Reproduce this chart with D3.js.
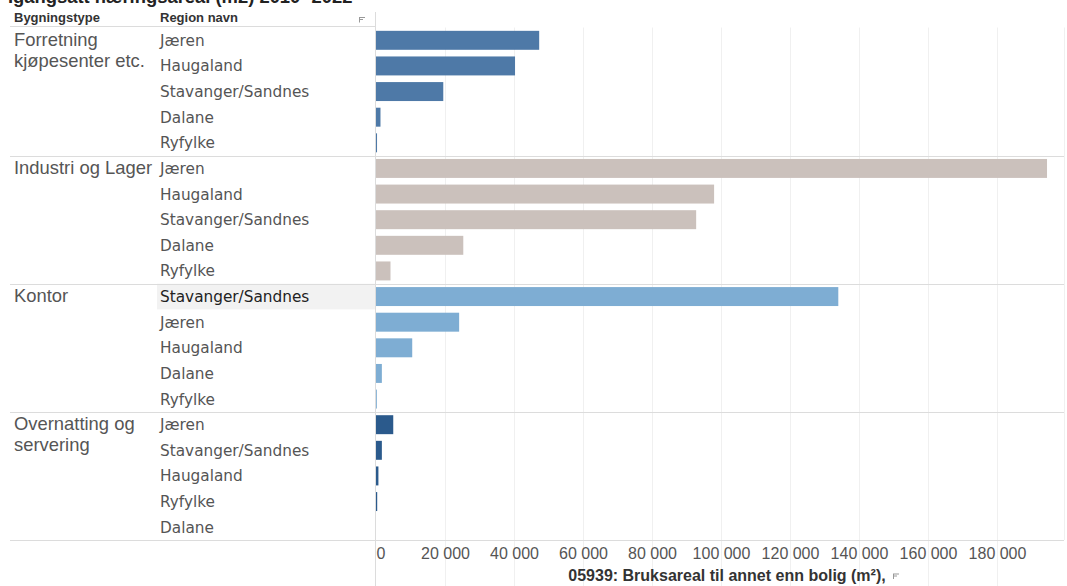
<!DOCTYPE html>
<html><head><meta charset="utf-8">
<script src="https://cdn.jsdelivr.net/npm/d3@7"></script>
<style>body{margin:0;background:#fff;}svg{display:block;}</style>
</head><body><svg id="c" width="1067" height="586"></svg>
<script>
const title = "Igangsatt næringsareal (m2) 2010 -2022";
const groups = ["Forretning\nkjøpesenter etc.", "Industri og Lager", "Kontor", "Overnatting og\nservering"];
const groupColors = ["#4e79a7", "#cbc1bc", "#7eadd3", "#2b5a8c"];
const regionsForretning = ["Jæren", "Haugaland", "Stavanger/Sandnes", "Dalane", "Ryfylke"];
const valuesForretning = [47300, 40300, 19500, 1300, 300];
const regionsIndustri = ["Jæren", "Haugaland", "Stavanger/Sandnes", "Dalane", "Ryfylke"];
const valuesIndustri = [194500, 98000, 92800, 25300, 4200];
const regionsKontor = ["Stavanger/Sandnes", "Jæren", "Haugaland", "Dalane", "Ryfylke"];
const valuesKontor = [134000, 24100, 10500, 1700, 250];
const regionsOvernatting = ["Jæren", "Stavanger/Sandnes", "Haugaland", "Ryfylke", "Dalane"];
const valuesOvernatting = [5000, 1700, 700, 350, 0];
const xTicks = [0, 20000, 40000, 60000, 80000, 100000, 120000, 140000, 160000, 180000];
const axisTitle = "05939: Bruksareal til annet enn bolig (m²),";

const regionLists = [regionsForretning, regionsIndustri, regionsKontor, regionsOvernatting];
const valueLists = [valuesForretning, valuesIndustri, valuesKontor, valuesOvernatting];
const rows = [];
groups.forEach((g, gi) => regionLists[gi].forEach((r, ri) => rows.push({g: gi, r, v: valueLists[gi][ri], key: gi + "|" + ri})));

const svg = d3.select("#c");
const topY = 27.5, bottomY = 540, paneL = 375.5, paneR = 1064;
const y = d3.scaleBand().domain(rows.map(d => d.key)).range([topY, bottomY]).paddingInner(0.26).paddingOuter(0.13);
const x = d3.scaleLinear().domain([0, 180000]).range([376, 997]);
const fmt = v => d3.format(",")(v).replace(/,/g, " ");

// title (partly cut off at top)
svg.append("text").attr("x", 8).attr("y", 3).attr("font-family", "Liberation Sans, Arial").attr("font-weight", "bold").attr("font-size", 18.4).attr("fill", "#222").text(title);

// highlight row
const hl = rows.find(d => d.g === 2 && d.r === "Stavanger/Sandnes");
const step = y.step();
svg.append("rect").attr("x", 157).attr("y", y(hl.key) - (step - y.bandwidth()) / 2).attr("width", paneL - 157).attr("height", step).attr("fill", "#f2f2f2");

// gridlines
svg.append("g").selectAll("line").data(xTicks.slice(1)).join("line")
  .attr("x1", d => x(d) + 0.5).attr("x2", d => x(d) + 0.5).attr("y1", topY).attr("y2", 586)
  .attr("stroke", "#f0f0f0").attr("stroke-width", 1);

// header
svg.append("text").attr("x", 14).attr("y", 22).attr("font-family", "Liberation Sans, Arial").attr("font-weight", "bold").attr("font-size", 13).attr("fill", "#333").text("Bygningstype");
svg.append("text").attr("x", 160).attr("y", 22).attr("font-family", "Liberation Sans, Arial").attr("font-weight", "bold").attr("font-size", 13).attr("fill", "#333").text("Region navn");
function sortIcon(cx, cy) {
  const gI = svg.append("g").attr("stroke", "#999").attr("stroke-width", 1);
  gI.append("line").attr("x1", cx).attr("x2", cx + 6).attr("y1", cy).attr("y2", cy);
  gI.append("line").attr("x1", cx).attr("x2", cx + 4).attr("y1", cy + 2).attr("y2", cy + 2);
  gI.append("line").attr("x1", cx).attr("x2", cx + 1).attr("y1", cy + 4).attr("y2", cy + 4);
  gI.append("line").attr("x1", cx + 0.5).attr("x2", cx + 0.5).attr("y1", cy).attr("y2", cy + 5);
}
sortIcon(359, 17.5);

svg.append("line").attr("x1", 10).attr("x2", paneL).attr("y1", 26.5).attr("y2", 26.5).attr("stroke", "#dcdcdc");
const sepYs = [1, 2, 3, 4].map(i => topY + i * 5 * step);
svg.append("g").selectAll("line").data(sepYs).join("line")
  .attr("x1", 10).attr("x2", paneR).attr("y1", d => Math.round(d) + 0.5).attr("y2", d => Math.round(d) + 0.5)
  .attr("stroke", "#dcdcdc");

svg.append("line").attr("x1", paneL).attr("x2", paneL).attr("y1", 12).attr("y2", 586).attr("stroke", "#dcdcdc");
svg.append("line").attr("x1", paneR + 0.5).attr("x2", paneR + 0.5).attr("y1", topY).attr("y2", bottomY).attr("stroke", "#f0f0f0");

// bars
svg.append("g").selectAll("rect").data(rows).join("rect")
  .attr("x", x(0)).attr("y", d => y(d.key)).attr("height", y.bandwidth())
  .attr("width", d => Math.max(0, x(d.v) - x(0)))
  .attr("fill", d => groupColors[d.g]);

// region labels
svg.append("g").selectAll("text").data(rows).join("text")
  .attr("x", 160).attr("y", d => y(d.key) + y.bandwidth() / 2 + 5.5)
  .attr("font-family", "DejaVu Sans, Verdana").attr("font-size", 15.3)
  .attr("fill", d => d === hl ? "#222" : "#555").text(d => d.r);

// group labels
groups.forEach((g, gi) => {
  const t = svg.append("text").attr("x", 14).attr("y", topY + gi * 5 * step + 18.5)
    .attr("font-family", "Liberation Sans, Arial").attr("font-size", 18.4).attr("fill", "#555");
  g.split("\n").forEach((ln, li) => t.append("tspan").attr("x", 14).attr("dy", li ? 20.5 : 0).text(ln));
});

// axis
const ax = d3.axisBottom(x).tickValues(xTicks).tickFormat(fmt).tickSize(0).tickPadding(0);
const axg = svg.append("g").attr("transform", `translate(0,${bottomY})`).call(ax);
axg.select(".domain").remove();
axg.selectAll("text").attr("y", 19).attr("dy", 0).attr("font-family", "Liberation Sans, Arial").attr("font-size", 16).attr("fill", "#555");
axg.selectAll("text").filter(d => d === 0).attr("text-anchor", "start").attr("x", 0);

svg.append("text").attr("x", 727).attr("y", 581).attr("text-anchor", "middle").attr("font-family", "Liberation Sans, Arial")
  .attr("font-weight", "bold").attr("font-size", 16).attr("fill", "#333").text(axisTitle);
sortIcon(893, 574);
</script></body></html>
